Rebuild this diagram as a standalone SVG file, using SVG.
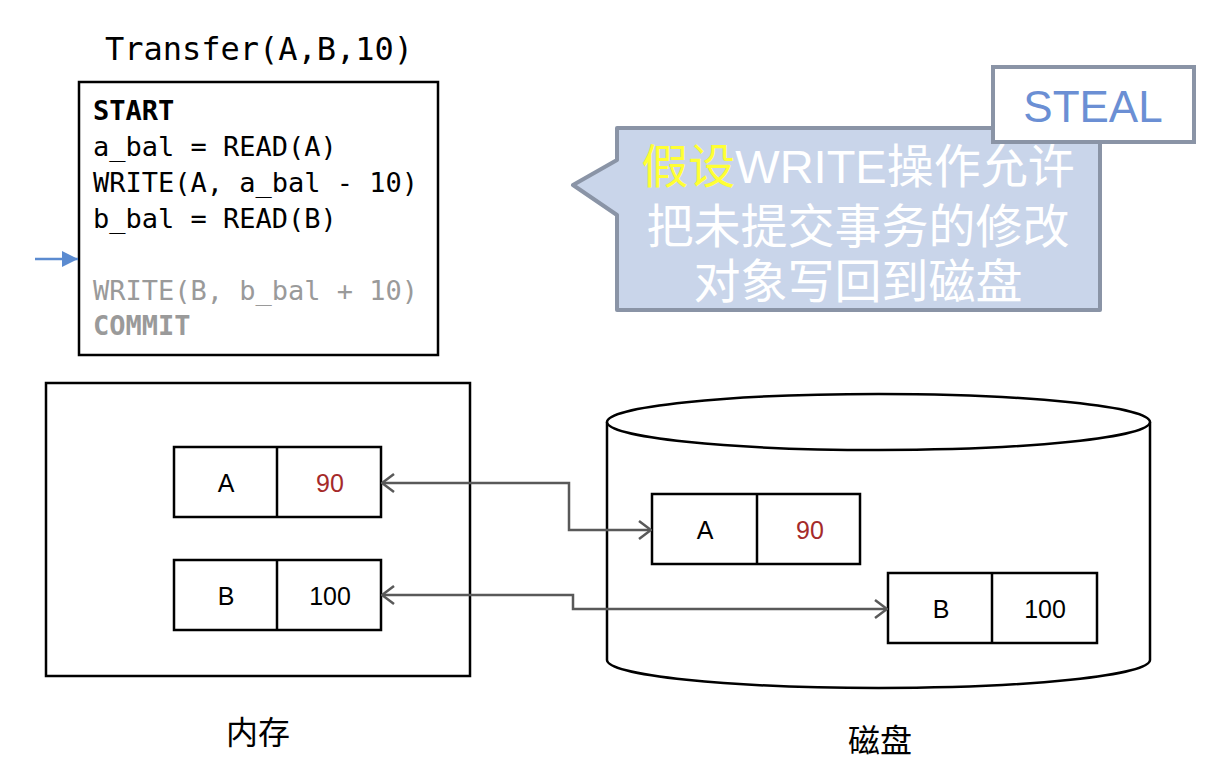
<svg xmlns="http://www.w3.org/2000/svg" width="1222" height="778" viewBox="0 0 1222 778">
<style>
.box{fill:#fff;stroke:#000;stroke-width:2.5}
.code{font-family:"DejaVu Sans Mono","Liberation Mono",monospace;font-size:27px;fill:#000}
.dim{fill:#9a9a9a}
.b{font-weight:bold}
.cell{font-family:"Liberation Sans","Noto Sans CJK SC",sans-serif;font-size:25px;fill:#000;text-anchor:middle}
.red{fill:#a52a2a}
.lbl{font-family:"Noto Sans CJK SC",sans-serif;font-size:32px;font-weight:400;fill:#000;text-anchor:middle}
.conn{fill:none;stroke:#595959;stroke-width:2.5}
.call{font-family:"Liberation Sans","Noto Sans CJK SC",sans-serif;font-size:47px;fill:#fff;text-anchor:middle}
</style>
<defs>
<marker id="open" viewBox="0 0 14 20" refX="13" refY="10" markerWidth="14" markerHeight="20" markerUnits="userSpaceOnUse" orient="auto-start-reverse">
<path d="M1,1 L13,10 L1,19" fill="none" stroke="#595959" stroke-width="2.5"/>
</marker>
<marker id="blue" viewBox="0 0 16 16" refX="16" refY="8" markerWidth="16" markerHeight="16" markerUnits="userSpaceOnUse" orient="auto">
<path d="M0,0 L16,8 L0,16 Z" fill="#5b8bd0"/>
</marker>
</defs>

<g id="transaction">
<text class="code" x="259" y="60" text-anchor="middle" style="font-size:32px">Transfer(A,B,10)</text>
<rect class="box" x="79" y="82" width="359" height="273"/>
<text class="code b" x="93" y="120">START</text>
<text class="code" x="93" y="156">a_bal = READ(A)</text>
<text class="code" x="93" y="192">WRITE(A, a_bal - 10)</text>
<text class="code" x="93" y="228">b_bal = READ(B)</text>
<text class="code dim" x="93" y="300">WRITE(B, b_bal + 10)</text>
<text class="code dim b" x="93" y="335">COMMIT</text>
</g>

<g id="pointer">
<line x1="35" y1="259" x2="78" y2="259" stroke="#5b8bd0" stroke-width="2.5" marker-end="url(#blue)"/>
</g>

<g id="callout">
<path d="M617,128 H1100 V310 H617 V215 L573,185 L617,160 Z" fill="#c9d5ea" stroke="#8a94a6" stroke-width="4" stroke-linejoin="round"/>
<text class="call" x="858" y="183"><tspan fill="#ffff33">假设</tspan>WRITE操作允许</text>
<text class="call" x="858" y="243">把未提交事务的修改</text>
<text class="call" x="858" y="298">对象写回到磁盘</text>
</g>

<g id="steal">
<rect x="993" y="67" width="201" height="75" fill="#fff" stroke="#8a94a6" stroke-width="4"/>
<text x="1093" y="122" font-family="Liberation Sans, sans-serif" font-size="44" fill="#6b8fd4" text-anchor="middle">STEAL</text>
</g>

<g id="memory">
<rect class="box" x="46" y="383" width="424" height="293"/>
<text class="lbl" x="258" y="744">内存</text>
</g>

<g id="mem-a">
<rect class="box" x="174" y="447" width="207" height="70"/>
<line x1="277" y1="447" x2="277" y2="517" stroke="#000" stroke-width="2.5"/>
<text class="cell" x="226" y="492">A</text>
<text class="cell red" x="330" y="492">90</text>
</g>

<g id="mem-b">
<rect class="box" x="174" y="560" width="207" height="70"/>
<line x1="277" y1="560" x2="277" y2="630" stroke="#000" stroke-width="2.5"/>
<text class="cell" x="226" y="605">B</text>
<text class="cell" x="330" y="605">100</text>
</g>

<g id="disk">
<path d="M607,422 V660 A271.5,28 0 0 0 1150,660 V422" fill="#fff" stroke="#000" stroke-width="2.5"/>
<ellipse cx="878.5" cy="422" rx="271.5" ry="28" fill="#fff" stroke="#000" stroke-width="2.5"/>
<text class="lbl" x="880" y="752">磁盘</text>
</g>

<g id="disk-a">
<rect class="box" x="652" y="494" width="208" height="70"/>
<line x1="757" y1="494" x2="757" y2="564" stroke="#000" stroke-width="2.5"/>
<text class="cell" x="705" y="539">A</text>
<text class="cell red" x="810" y="539">90</text>
</g>

<g id="disk-b">
<rect class="box" x="888" y="573" width="209" height="70"/>
<line x1="992" y1="573" x2="992" y2="643" stroke="#000" stroke-width="2.5"/>
<text class="cell" x="941" y="618">B</text>
<text class="cell" x="1045" y="618">100</text>
</g>

<g id="connectors">
<path class="conn" d="M382,483 H569 V530 H651" marker-start="url(#open)" marker-end="url(#open)"/>
<path class="conn" d="M382,595 H573 V609 H887" marker-start="url(#open)" marker-end="url(#open)"/>
</g>
</svg>
